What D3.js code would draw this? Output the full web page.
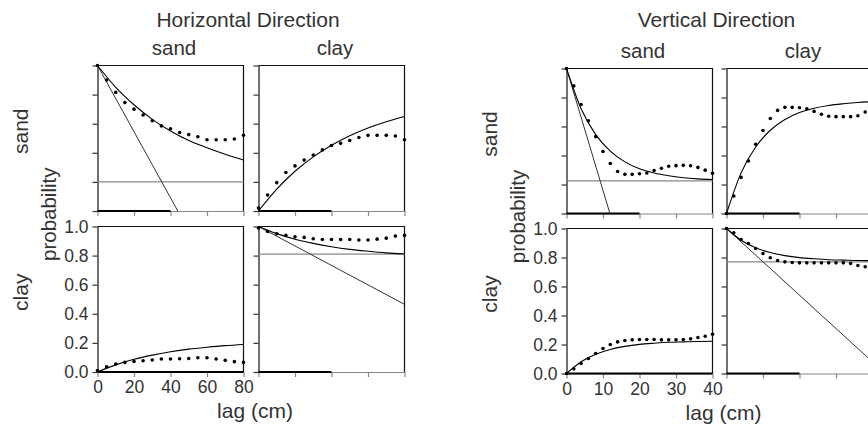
<!DOCTYPE html>
<html>
<head>
<meta charset="utf-8">
<script src="https://cdn.jsdelivr.net/npm/d3@7"></script>
<style>
  body { margin: 0; background: #fff; }
  text { font-family: "Liberation Sans", Arial, sans-serif; fill: #333; }
</style>
</head>
<body>
<svg id="chart"></svg>
<script>
// ---- horizontal direction (lag 0-80 cm) ----
const hObsLags = [0, 5, 10, 15, 20, 25, 30, 35, 40, 45, 50, 55, 60, 65, 70, 75, 80];
const hSandSandObs = [1.0, 0.90, 0.815, 0.745, 0.70, 0.66, 0.62, 0.585, 0.565, 0.54, 0.525, 0.51, 0.49, 0.49, 0.49, 0.495, 0.52];
const hSandClayObs = [0.02, 0.11, 0.195, 0.265, 0.31, 0.35, 0.385, 0.42, 0.45, 0.465, 0.485, 0.505, 0.52, 0.52, 0.52, 0.515, 0.49];
const hClaySandObs = [0.01, 0.036, 0.055, 0.066, 0.073, 0.077, 0.082, 0.089, 0.089, 0.091, 0.093, 0.098, 0.098, 0.089, 0.08, 0.071, 0.066];
const hClayClayObs = [0.99, 0.966, 0.95, 0.939, 0.929, 0.925, 0.916, 0.911, 0.911, 0.911, 0.911, 0.907, 0.907, 0.913, 0.92, 0.934, 0.939];

const hFitLags = [0, 10, 20, 30, 40, 50, 60, 70, 80];
const hSandSandFit = [1.0, 0.85, 0.73, 0.63, 0.55, 0.485, 0.435, 0.39, 0.35];
const hSandClayFit = [0, 0.15, 0.273, 0.372, 0.452, 0.518, 0.571, 0.614, 0.65];
const hClaySandFit = [0, 0.049, 0.087, 0.116, 0.139, 0.157, 0.170, 0.181, 0.189];
const hClayClayFit = [1.0, 0.951, 0.913, 0.884, 0.861, 0.843, 0.83, 0.819, 0.811];

const hSandSandTangent = [[0, 1], [44, 0]];
const hClayClayTangent = [[0, 1], [80, 0.465]];
const hSandSandSill = 0.2;
const hClayClaySill = 0.81;
const hBarEnds = [40, 40, 80, 40];
const hLagTicks = [0, 20, 40, 60, 80];

// ---- vertical direction (lag 0-40 cm) ----
const vObsLags = [0, 2, 4, 6, 8, 10, 12, 14, 16, 18, 20, 22, 24, 26, 28, 30, 32, 34, 36, 38, 40];
const vSandSandObs = [1.0, 0.88, 0.752, 0.64, 0.53, 0.428, 0.345, 0.29, 0.27, 0.27, 0.274, 0.279, 0.297, 0.312, 0.326, 0.33, 0.332, 0.329, 0.318, 0.299, 0.278];
const vSandClayObs = [0, 0.12, 0.249, 0.362, 0.478, 0.572, 0.655, 0.711, 0.732, 0.732, 0.729, 0.722, 0.704, 0.685, 0.671, 0.668, 0.668, 0.668, 0.674, 0.70, 0.72];
const vClaySandObs = [0, 0.032, 0.069, 0.103, 0.138, 0.172, 0.2, 0.218, 0.228, 0.232, 0.234, 0.234, 0.234, 0.232, 0.232, 0.232, 0.234, 0.239, 0.248, 0.257, 0.271];
const vClayClayObs = [1.0, 0.97, 0.924, 0.897, 0.862, 0.828, 0.798, 0.779, 0.77, 0.766, 0.763, 0.763, 0.763, 0.763, 0.763, 0.763, 0.763, 0.759, 0.745, 0.736, 0.72];

const vFitLags = [0, 4, 8, 12, 16, 20, 24, 28, 32, 36, 40];
const vSandSandFit = [1.0, 0.722, 0.544, 0.43, 0.356, 0.309, 0.279, 0.26, 0.247, 0.239, 0.234];
const vSandClayFit = [0, 0.28, 0.459, 0.574, 0.648, 0.696, 0.726, 0.745, 0.757, 0.766, 0.771];
const vClaySandFit = [0, 0.081, 0.133, 0.166, 0.187, 0.201, 0.209, 0.215, 0.218, 0.221, 0.222];
const vClayClayFit = [1.0, 0.919, 0.867, 0.834, 0.813, 0.799, 0.791, 0.785, 0.782, 0.779, 0.778];

const vSandSandTangent = [[0, 1], [11.9, 0]];
const vClayClayTangent = [[0, 1], [40, 0.08]];
const vSandSandSill = 0.225;
const vClayClaySill = 0.77;
const vBarEnds = [20, 20, 40, 20];
const vLagTicks = [0, 10, 20, 30, 40];

const classes = ['sand', 'clay'];
const probTicks = [0, 0.2, 0.4, 0.6, 0.8, 1.0];

const width = 868;
const height = 431;

const svg = d3.select('#chart')
    .attr('width', width)
    .attr('height', height);

const groups = [
    {
        title: 'Horizontal Direction', maxLag: 80, lagTicks: hLagTicks,
        left: 97.5, top: 65.5, pw: 146, ph: 145.5, hgap: 15, vgap: 15.5,
        obsLags: hObsLags, fitLags: hFitLags, barEnds: hBarEnds,
        panels: [
            { obs: hSandSandObs, fit: hSandSandFit, tangent: hSandSandTangent, sill: hSandSandSill },
            { obs: hSandClayObs, fit: hSandClayFit },
            { obs: hClaySandObs, fit: hClaySandFit },
            { obs: hClayClayObs, fit: hClayClayFit, tangent: hClayClayTangent, sill: hClayClaySill }
        ]
    },
    {
        title: 'Vertical Direction', maxLag: 40, lagTicks: vLagTicks,
        left: 566.5, top: 68.5, pw: 146, ph: 145, hgap: 14, vgap: 15,
        obsLags: vObsLags, fitLags: vFitLags, barEnds: vBarEnds,
        panels: [
            { obs: vSandSandObs, fit: vSandSandFit, tangent: vSandSandTangent, sill: vSandSandSill },
            { obs: vSandClayObs, fit: vSandClayFit },
            { obs: vClaySandObs, fit: vClaySandFit },
            { obs: vClayClayObs, fit: vClayClayFit, tangent: vClayClayTangent, sill: vClayClaySill }
        ]
    }
];

groups.forEach(drawGroup);

function drawGroup(g) {
    const x = d3.scaleLinear().domain([0, g.maxLag]).range([0, g.pw]);
    const y = d3.scaleLinear().domain([0, 1]).range([g.ph, 0]);
    const root = svg.append('g');

    const fullW = 2 * g.pw + g.hgap;
    const midY = g.top + g.ph + g.vgap / 2;
    const bottom = g.top + 2 * g.ph + g.vgap;

    // titles
    root.append('text')
        .attr('x', g.left + fullW / 2 - 3)
        .attr('y', 27)
        .attr('text-anchor', 'middle')
        .style('font-size', '21px')
        .text(g.title);

    classes.forEach((c, i) => {
        root.append('text')
            .attr('x', g.left + i * (g.pw + g.hgap) + g.pw / 2 + 3.5)
            .attr('y', g.top - 10.5)
            .attr('text-anchor', 'middle')
            .style('font-size', '20.5px')
            .text(c);

        const cy = g.top + i * (g.ph + g.vgap) + g.ph / 2 - 7;
        root.append('text')
            .attr('transform', `translate(${g.left - 69.5},${cy}) rotate(-90)`)
            .attr('text-anchor', 'middle')
            .style('font-size', '21px')
            .text(c);
    });

    root.append('text')
        .attr('transform', `translate(${g.left - 42},${midY - 4.5}) rotate(-90)`)
        .attr('text-anchor', 'middle')
        .style('font-size', '20.5px')
        .text('probability');

    root.append('text')
        .attr('x', g.left + fullW / 2 + 4)
        .attr('y', bottom + 46)
        .attr('text-anchor', 'middle')
        .style('font-size', '21px')
        .text('lag (cm)');

    const line = d3.line()
        .x(d => x(d[0]))
        .y(d => y(d[1]));

    const smooth = d3.line()
        .x(d => x(d[0]))
        .y(d => y(d[1]))
        .curve(d3.curveMonotoneX);

    g.panels.forEach((p, i) => {
        const col = i % 2;
        const row = Math.floor(i / 2);
        const px = g.left + col * (g.pw + g.hgap);
        const py = g.top + row * (g.ph + g.vgap);
        const panel = root.append('g').attr('transform', `translate(${px},${py})`);
        const labelled = (i === 2);

        // bottom axis (grey)
        const xAxis = d3.axisBottom(x)
            .tickValues(g.lagTicks)
            .tickSizeInner(5)
            .tickSizeOuter(0)
            .tickPadding(4)
            .tickFormat(labelled ? d3.format('d') : () => '');
        const xg = panel.append('g')
            .attr('transform', `translate(0,${g.ph})`)
            .call(xAxis);
        xg.select('.domain').attr('stroke', '#888').attr('stroke-width', 1.2);
        xg.selectAll('.tick line').attr('stroke', '#888').attr('stroke-width', 1.2);
        xg.selectAll('.tick text')
            .attr('fill', '#333')
            .style('font-size', '17.5px')
            .style('font-family', '"Liberation Sans", Arial, sans-serif');

        // left axis
        const yAxis = d3.axisLeft(y)
            .tickValues(probTicks)
            .tickSizeInner(5)
            .tickSizeOuter(0)
            .tickPadding(4)
            .tickFormat(labelled ? d3.format('.1f') : () => '');
        const yg = panel.append('g').call(yAxis);
        yg.select('.domain').attr('stroke', '#111').attr('stroke-width', 1.2);
        yg.selectAll('.tick line').attr('stroke', '#333').attr('stroke-width', 1.2);
        yg.selectAll('.tick text')
            .attr('fill', '#333')
            .style('font-size', '17.5px')
            .style('font-family', '"Liberation Sans", Arial, sans-serif');

        // frame: top and right
        panel.append('path')
            .attr('d', `M0,0H${g.pw}V${g.ph}`)
            .attr('fill', 'none')
            .attr('stroke', '#111')
            .attr('stroke-width', 1.2);

        // black bar along the lag axis
        panel.append('path')
            .attr('d', line([[0, 0], [g.barEnds[i], 0]]))
            .attr('stroke', '#000')
            .attr('stroke-width', 2);

        if (p.sill !== undefined) {
            panel.append('path')
                .attr('d', line([[0, p.sill], [g.maxLag, p.sill]]))
                .attr('stroke', '#888')
                .attr('stroke-width', 1.3);
        }

        if (p.tangent) {
            panel.append('path')
                .attr('d', line(p.tangent))
                .attr('fill', 'none')
                .attr('stroke', '#333')
                .attr('stroke-width', 1);
        }

        panel.append('path')
            .attr('d', smooth(g.fitLags.map((h, k) => [h, p.fit[k]])))
            .attr('fill', 'none')
            .attr('stroke', '#000')
            .attr('stroke-width', 1.1);

        panel.append('g')
            .selectAll('circle')
            .data(g.obsLags.map((h, k) => [h, p.obs[k]]))
            .enter().append('circle')
            .attr('cx', d => x(d[0]))
            .attr('cy', d => y(d[1]))
            .attr('r', 1.8)
            .attr('fill', '#000');
    });
}
</script>
</body>
</html>
